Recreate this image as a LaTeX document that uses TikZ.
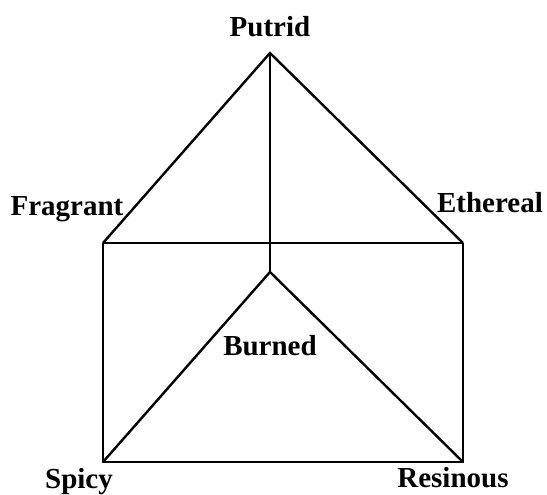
\documentclass[tikz,border=0pt]{standalone}
\usepackage{fontspec}
\setmainfont{Liberation Serif}
\usetikzlibrary{positioning}

\begin{document}
\begin{tikzpicture}[x=1pt, y=-1pt, line width=2.4pt,
	smell/.style={anchor=base, inner sep=0pt, font=\fontsize{29}{34}\selectfont\bfseries}]
	\useasboundingbox (0, 0) rectangle (547, 495);
	% Corners of the prism:
	\coordinate (putrid) at (270, 53);
	\coordinate (fragrant) at (103, 243);
	\coordinate (ethereal) at (463, 243);
	\coordinate (burned) at (270, 272);
	\coordinate (spicy) at (103, 462);
	\coordinate (resinous) at (463, 462);
	\coordinate (mid) at (270, 243);
	% Labels:
	\node[smell] (lputrid) at (270, 37) {Putrid};
	\node[smell] (lfragrant) at (67, 215) {Fragrant};
	\node[smell] (lethereal) at (490, 212) {Ethereal};
	\node[smell] (lburned) at (270, 355) {Burned};
	\node[smell] (lspicy) at (79, 488) {Spicy};
	\node[smell] (lresinous) at (453, 487) {Resinous};
	% Edges:
	\draw (fragrant) -- (putrid) -- (ethereal);
	\draw (putrid) -- (burned);
	\draw (fragrant) -- (ethereal);
	\draw (spicy) -- (burned) -- (resinous);
	\draw (fragrant) -- (spicy) -- (resinous) -- (ethereal);
\end{tikzpicture}
\end{document}
